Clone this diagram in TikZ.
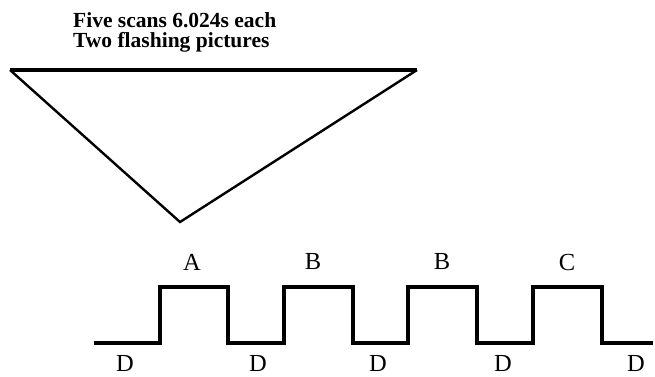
\documentclass[tikz,border=0pt]{standalone}
\usepackage{fontspec}
\setmainfont{Liberation Serif}
\usepackage{tikz}
\usetikzlibrary{positioning}
\tikzset{
  ttl/.style={inner sep=0pt,align=left,anchor=north west,
    font=\fontsize{21.5}{20.5}\selectfont\bfseries},
  lbl/.style={inner sep=0pt,font=\fontsize{24.5}{26}\selectfont},
  topbar/.style={line width=3.6pt,line cap=butt},
  tri/.style={line width=2.4pt,line join=miter},
  wave/.style={line width=3.6pt,line join=miter},
}
\begin{document}
\begin{tikzpicture}[x=1pt,y=-1pt]
  \useasboundingbox (0,0) rectangle (655,376);
  \node[ttl] (title) at (73,12) {Five scans 6.024s each\\Two flashing pictures};
  % the wedge
  \coordinate (tl) at (10,70);
  \coordinate (tr) at (417,70);
  \coordinate (tip) at (180,222);
  \draw[tri] (tl) -- (tip) -- (tr);
  \draw[topbar] (tl) -- (tr);
  % pulse train
  \draw[wave] (94,343) -| (160,287) -| (228,343) -| (284,287) -| (353,343)
    -| (408,287) -| (477,343) -| (533,287) -| (602,343) -- (653,343);
  \node[lbl] (pA) at (192,262) {A};
  \node[lbl] (pB1) at (313,262) {B};
  \node[lbl] (pB2) at (442,262) {B};
  \node[lbl] (pC) at (567,262) {C};
  \node[lbl] (d1) at (125,363) {D};
  \node[lbl] (d2) at (258,363) {D};
  \node[lbl] (d3) at (378,363) {D};
  \node[lbl] (d4) at (503,363) {D};
  \node[lbl] (d5) at (636,363) {D};
\end{tikzpicture}
\end{document}
